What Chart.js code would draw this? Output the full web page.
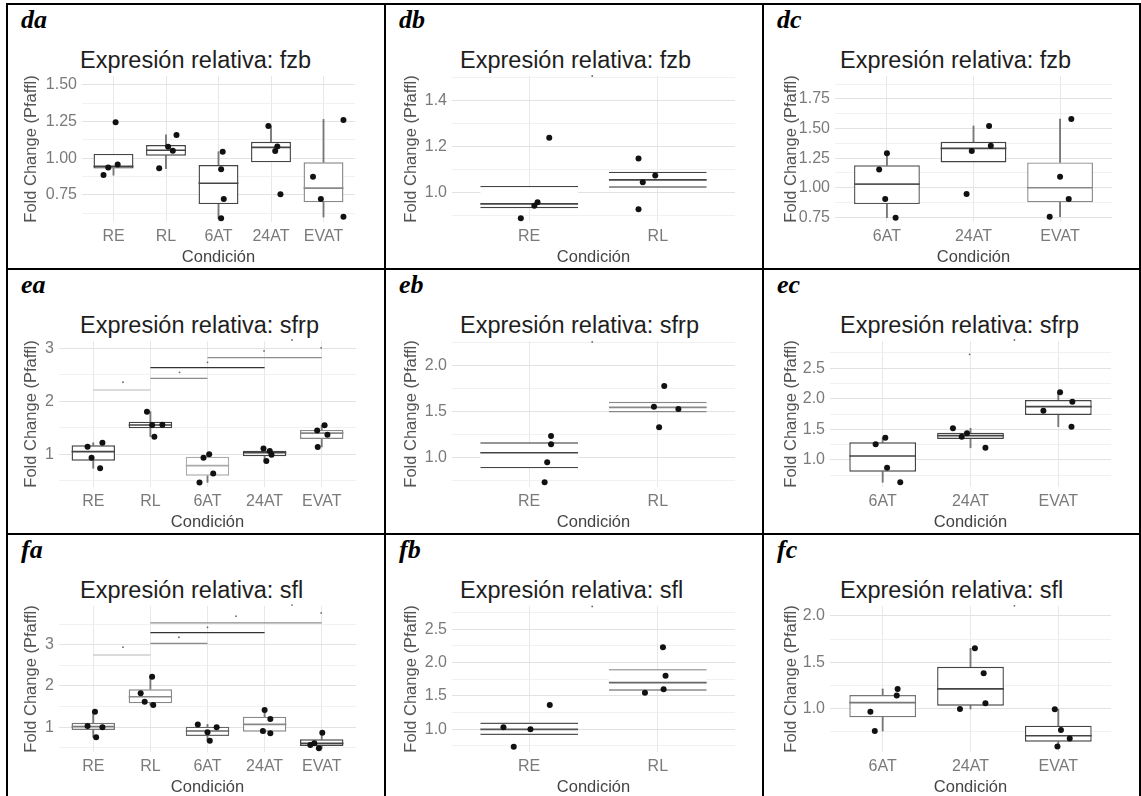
<!DOCTYPE html>
<html lang="es">
<head>
<meta charset="UTF-8" />
<title>Expresión relativa: fzb, sfrp, sfl</title>
<script src="https://cdn.jsdelivr.net/npm/chart.js"></script>
<style>
  * { margin: 0; padding: 0; box-sizing: border-box; }
  body { background: #fff; width: 1141px; height: 796px; overflow: hidden; position: relative; font-family: 'Liberation Sans', Arial, sans-serif; }
  .line { position: absolute; background: #000; }
  .cell { position: absolute; overflow: hidden; }
  .tag { position: absolute; left: 13px; top: 2px; line-height: 26px; font-family: 'Liberation Serif', serif; font-weight: bold; font-style: italic; font-size: 26px; color: #000; }
  .ttl { position: absolute; top: 44px; line-height: 23px; font-size: 23.5px; color: #1e1e1e; white-space: nowrap; }
  canvas { position: absolute; top: 0; }
</style>
</head>
<body>
<div id="sheet"></div>
<script>
  // categories
  const catsAll = ['RE', 'RL', '6AT', '24AT', 'EVAT'];
  const catsRR = ['RE', 'RL'];
  const catsAT = ['6AT', '24AT', 'EVAT'];

  // ---- fzb ----
  const daQ1 = [0.93, 1.018, 0.688, 0.973, 0.70];
  const daMed = [0.945, 1.055, 0.83, 1.075, 0.797];
  const daQ3 = [1.03, 1.09, 0.954, 1.113, 0.973];
  const daLo = [0.885, 0.93, 0.59, null, 0.60];
  const daHi = [null, 1.16, 1.045, 1.22, 1.265];
  const daPts = [[1.245, 0.958, 0.938, 0.887], [0.932, 1.079, 1.052, 1.159], [1.045, 0.925, 0.723, 0.591], [1.22, 1.08, 1.05, 0.755], [0.875, 0.723, 1.261, 0.602]];
  const daJit = [[0.04, 0.08, -0.1, -0.19], [-0.13, 0.04, 0.13, 0.2], [0.08, 0.05, 0.1, 0.05], [-0.05, 0.12, 0.08, 0.18], [-0.2, -0.05, 0.38, 0.38]];

  const dbQ1 = [0.93, 1.02];
  const dbMed = [0.949, 1.054];
  const dbQ3 = [1.0275, 1.09];
  const dbPts = [[0.886, 0.941, 0.956, 1.238], [0.926, 1.044, 1.073, 1.147]];
  const dbJit = [[-0.065, 0.04, 0.065, 0.156], [-0.15, -0.117, -0.02, -0.15]];
  const dbMarkX = [0.49];
  const dbMarkY = [1.508];

  const dcQ1 = [0.862, 1.214, 0.877];
  const dcMed = [1.031, 1.333, 1.0];
  const dcQ3 = [1.19, 1.388, 1.214];
  const dcLo = [0.747, null, 0.755];
  const dcHi = [1.292, 1.521, 1.58];
  const dcPts = [[1.292, 1.155, 0.905, 0.747], [1.521, 1.355, 1.31, 0.947], [1.58, 1.093, 0.905, 0.755]];
  const dcJit = [[0, -0.09, -0.02, 0.1], [0.18, 0.2, -0.02, -0.08], [0.13, 0, 0.1, -0.12]];

  // ---- sfrp ----
  const eaQ1 = [0.88, 1.49, 0.595, 0.965, 1.29];
  const eaMed = [1.05, 1.553, 0.785, 1.03, 1.40];
  const eaQ3 = [1.17, 1.615, 0.955, 1.065, 1.46];
  const eaLo = [0.736, 1.332, 0.47, 0.874, 1.14];
  const eaHi = [1.219, 1.804, 1.0, 1.11, 1.55];
  const eaPts = [[1.143, 1.219, 0.936, 0.736], [1.804, 1.553, 1.56, 1.332], [0.936, 1.0, 0.64, 0.47], [1.11, 1.06, 0.99, 0.874], [1.55, 1.45, 1.37, 1.14]];
  const eaJit = [[-0.1, 0.16, -0.03, 0.12], [-0.06, 0.03, 0.21, 0.07], [-0.07, 0.03, 0.1, -0.14], [-0.02, 0.09, 0.12, 0.03], [0.05, -0.08, 0.1, -0.07]];
  const eaSigFrom = [0, 1, 1, 2];
  const eaSigTo = [1, 2, 3, 4];
  const eaSigH = [2.213, 2.434, 2.634, 2.823];
  const eaMarkX = [0.52, 1.51, 2.0, 2.99, 3.48, 3.99];
  const eaMarkY = [2.36, 2.547, 2.736, 2.95, 3.157, 3.01];

  const ebQ1 = [0.88, 1.49];
  const ebMed = [1.05, 1.546];
  const ebQ3 = [1.164, 1.607];
  const ebPts = [[1.233, 1.142, 0.945, 0.727], [1.78, 1.552, 1.527, 1.328]];
  const ebJit = [[0.17, 0.17, 0.14, 0.12], [0.05, -0.03, 0.16, 0.01]];
  const ebMarkX = [0.49];
  const ebMarkY = [2.26];

  const ecQ1 = [0.809, 1.343, 1.735];
  const ecMed = [1.065, 1.397, 1.871];
  const ecQ3 = [1.289, 1.446, 1.98];
  const ecLo = [0.636, 1.2, 1.544];
  const ecHi = [1.364, 1.518, 2.106];
  const ecPts = [[1.364, 1.256, 0.874, 0.636], [1.518, 1.381, 1.436, 1.2], [2.106, 1.953, 1.806, 1.544]];
  const ecJit = [[0.03, -0.08, 0.05, 0.2], [-0.2, -0.1, -0.04, 0.17], [0.02, 0.16, -0.17, 0.15]];
  const ecMarkX = [0.99, 1.5];
  const ecMarkY = [2.727, 2.96];

  // ---- sfl ----
  const faQ1 = [0.935, 1.58, 0.79, 0.894, 0.547];
  const faMed = [1.015, 1.74, 0.91, 1.07, 0.613];
  const faQ3 = [1.11, 1.92, 1.015, 1.257, 0.71];
  const faLo = [0.758, 1.54, 0.675, 0.855, 0.49];
  const faHi = [1.378, 2.225, 1.07, 1.42, 0.87];
  const faPts = [[1.378, 1.03, 1.0, 0.758], [2.225, 1.823, 1.62, 1.54], [1.07, 1.0, 0.88, 0.675], [1.42, 1.2, 0.91, 0.855], [0.87, 0.613, 0.57, 0.49]];
  const faJit = [[0.03, -0.1, 0.16, 0.05], [0.03, -0.17, -0.1, 0.05], [-0.17, 0.16, 0, 0.04], [0, 0.1, -0.03, 0.1], [0.01, -0.13, -0.2, -0.05]];
  const faSigFrom = [0, 1, 1, 1];
  const faSigTo = [1, 2, 3, 4];
  const faSigH = [2.75, 3.03, 3.29, 3.53];
  const faMarkX = [0.52, 1.5, 2.0, 2.5, 3.48, 3.99];
  const faMarkY = [2.94, 3.18, 3.42, 3.69, 3.96, 3.77];

  const fbQ1 = [0.915, 1.578];
  const fbMed = [1.0, 1.7];
  const fbQ3 = [1.1, 1.9];
  const fbPts = [[1.03, 1.0, 1.364, 0.74], [2.228, 1.8, 1.6, 1.548]];
  const fbJit = [[-0.2, 0.01, 0.16, -0.12], [0.04, 0.06, 0.045, -0.1]];
  const fbMarkX = [0.49];
  const fbMarkY = [2.84];

  const fcQ1 = [0.903, 1.028, 0.638];
  const fcMed = [1.061, 1.21, 0.703];
  const fcQ3 = [1.144, 1.45, 0.812];
  const fcLo = [0.754, 0.993, 0.587];
  const fcHi = [1.21, 1.65, 0.99];
  const fcPts = [[1.21, 1.14, 0.963, 0.754], [1.65, 1.38, 1.054, 0.993], [0.99, 0.764, 0.673, 0.587]];
  const fcJit = [[0.17, 0.16, -0.14, -0.09], [0.05, 0.15, 0.17, -0.12], [-0.04, 0.03, 0.13, -0.01]];
  const fcMarkX = [1.5];
  const fcMarkY = [2.11];

  // y ticks (major labelled, minor grid only)
  const tk075 = [0.75, 1.00, 1.25, 1.50, 1.75];
  const tk075Lab = ['0.75', '1.00', '1.25', '1.50', '1.75'];
  const tk075Min = [0.625, 0.875, 1.125, 1.375, 1.625, 1.875];
  const tkDb = [1.0, 1.2, 1.4];
  const tkDbLab = ['1.0', '1.2', '1.4'];
  const tkDbMin = [0.9, 1.1, 1.3, 1.5];
  const tkInt = [1, 2, 3];
  const tkIntLab = ['1', '2', '3'];
  const tkIntMin = [0.5, 1.5, 2.5, 3.5];
  const tkHalf = [1.0, 1.5, 2.0, 2.5];
  const tkHalfLab = ['1.0', '1.5', '2.0', '2.5'];
  const tkHalfMin = [0.75, 1.25, 1.75, 2.25, 2.75];

  const FONT = "'Liberation Sans', Arial, sans-serif";
  const COL_X = [8, 386, 764];
  const COL_W = [376, 376, 375];
  const ROW_Y = [5, 270, 535];
  const CELL_H = 263;
  const TITLE_X = [72, 74, 76];
  const YTITLE_PAD = [14, 16, 18];

  const panels = [
    { tag: 'da', gene: 'fzb', row: 0, col: 0, cats: catsAll, q1: daQ1, med: daMed, q3: daQ3, lo: daLo, hi: daHi, pts: daPts, jit: daJit,
      yMin: 0.566, yMax: 1.561, yMajor: tk075, yLab: tk075Lab, yMinor: tk075Min, l: 74, r: 347,
      colors: ['#444', '#444', '#444', '#444', '#888'] },
    { tag: 'db', gene: 'fzb', row: 0, col: 1, cats: catsRR, q1: dbQ1, med: dbMed, q3: dbQ3, pts: dbPts, jit: dbJit, markX: dbMarkX, markY: dbMarkY,
      yMin: 0.870, yMax: 1.508, yMajor: tkDb, yLab: tkDbLab, yMinor: tkDbMin, l: 66, r: 349, open: true,
      colors: ['#444', '#444'] },
    { tag: 'dc', gene: 'fzb', row: 0, col: 2, cats: catsAT, q1: dcQ1, med: dcMed, q3: dcQ3, lo: dcLo, hi: dcHi, pts: dcPts, jit: dcJit,
      yMin: 0.711, yMax: 1.943, yMajor: tk075, yLab: tk075Lab, yMinor: tk075Min, l: 71, r: 348,
      colors: ['#555', '#444', '#888'] },
    { tag: 'ea', gene: 'sfrp', row: 1, col: 0, cats: catsAll, q1: eaQ1, med: eaMed, q3: eaQ3, lo: eaLo, hi: eaHi, pts: eaPts, jit: eaJit,
      sigFrom: eaSigFrom, sigTo: eaSigTo, sigH: eaSigH, sigColors: ['#b5b5b5', '#8c8c8c', '#333', '#8c8c8c'], markX: eaMarkX, markY: eaMarkY,
      yMin: 0.383, yMax: 3.138, yMajor: tkInt, yLab: tkIntLab, yMinor: tkIntMin, l: 51, r: 348,
      colors: ['#444', '#444', '#aaa', '#444', '#888'] },
    { tag: 'eb', gene: 'sfrp', row: 1, col: 1, cats: catsRR, q1: ebQ1, med: ebMed, q3: ebQ3, pts: ebPts, jit: ebJit, markX: ebMarkX, markY: ebMarkY,
      yMin: 0.676, yMax: 2.27, yMajor: tkHalf, yLab: tkHalfLab, yMinor: tkHalfMin, l: 66, r: 349, open: true,
      colors: ['#444', '#888'] },
    { tag: 'ec', gene: 'sfrp', row: 1, col: 2, cats: catsAT, q1: ecQ1, med: ecMed, q3: ecQ3, lo: ecLo, hi: ecHi, pts: ecPts, jit: ecJit, markX: ecMarkX, markY: ecMarkY,
      yMin: 0.559, yMax: 2.944, yMajor: tkHalf, yLab: tkHalfLab, yMinor: tkHalfMin, l: 66, r: 347,
      colors: ['#444', '#444', '#444'] },
    { tag: 'fa', gene: 'sfl', row: 2, col: 0, cats: catsAll, q1: faQ1, med: faMed, q3: faQ3, lo: faLo, hi: faHi, pts: faPts, jit: faJit,
      sigFrom: faSigFrom, sigTo: faSigTo, sigH: faSigH, sigColors: ['#b5b5b5', '#8c8c8c', '#333', '#8c8c8c'], markX: faMarkX, markY: faMarkY,
      yMin: 0.402, yMax: 3.937, yMajor: tkInt, yLab: tkIntLab, yMinor: tkIntMin, l: 51, r: 348,
      colors: ['#777', '#888', '#666', '#888', '#444'] },
    { tag: 'fb', gene: 'sfl', row: 2, col: 1, cats: catsRR, q1: fbQ1, med: fbMed, q3: fbQ3, pts: fbPts, jit: fbJit, markX: fbMarkX, markY: fbMarkY,
      yMin: 0.66, yMax: 2.846, yMajor: tkHalf, yLab: tkHalfLab, yMinor: tkHalfMin, l: 66, r: 349, open: true,
      colors: ['#555', '#666'] },
    { tag: 'fc', gene: 'sfl', row: 2, col: 2, cats: catsAT, q1: fcQ1, med: fcMed, q3: fcQ3, lo: fcLo, hi: fcHi, pts: fcPts, jit: fcJit, markX: fcMarkX, markY: fcMarkY,
      yMin: 0.527, yMax: 2.108, yMajor: tkHalf, yLab: tkHalfLab, yMinor: tkHalfMin, l: 66, r: 347,
      colors: ['#777', '#444', '#444'] }
  ];

  // median line of each box, drawn right after its box
  const medianPlugin = {
    id: 'medians',
    afterDatasetDraw(chart, args) {
      const ds = chart.data.datasets[args.index];
      if (!ds.medians) return;
      const y = chart.scales.y, ctx = chart.ctx;
      ctx.save();
      ctx.lineWidth = 1.7;
      args.meta.data.forEach((bar, i) => {
        const py = y.getPixelForValue(ds.medians[i]);
        ctx.strokeStyle = ds.borderColor[i];
        ctx.beginPath();
        ctx.moveTo(bar.x - bar.width / 2, py);
        ctx.lineTo(bar.x + bar.width / 2, py);
        ctx.stroke();
      });
      ctx.restore();
    }
  };

  const sheet = document.getElementById('sheet');
  function addLine(x, y, w, h) {
    const d = document.createElement('div');
    d.className = 'line';
    d.style.cssText = `left:${x}px;top:${y}px;width:${w}px;height:${h}px`;
    sheet.appendChild(d);
  }
  [6, 384, 762, 1139].forEach(x => addLine(x, 3, 2, 800));
  [3, 268, 533].forEach(y => addLine(6, y, 1135, 2));

  panels.forEach(p => {
    const cw = COL_W[p.col];
    const cell = document.createElement('div');
    cell.className = 'cell';
    cell.style.cssText = `left:${COL_X[p.col]}px;top:${ROW_Y[p.row]}px;width:${cw}px;height:${CELL_H}px`;
    cell.innerHTML = `<div class="tag">${p.tag}</div><div class="ttl" style="left:${TITLE_X[p.col]}px">Expresión relativa: ${p.gene}</div>`;
    const cv = document.createElement('canvas');
    cv.width = cw; cv.height = CELL_H;
    cell.appendChild(cv);
    sheet.appendChild(cell);

    const datasets = [];
    const pts = [];
    p.pts.forEach((vals, i) => vals.forEach((v, k) => pts.push({ x: i + p.jit[i][k], y: v })));
    datasets.push({ type: 'scatter', data: pts, pointRadius: 3, pointBackgroundColor: '#111', pointBorderWidth: 0 });
    if (p.markX) {
      datasets.push({ type: 'scatter', data: p.markX.map((x, i) => ({ x, y: p.markY[i] })), pointRadius: 0.9,
        pointBackgroundColor: '#666', pointBorderWidth: 0, clip: false });
    }
    if (p.sigFrom) {
      p.sigFrom.forEach((a, i) => datasets.push({ type: 'line', data: [{ x: a, y: p.sigH[i] }, { x: p.sigTo[i], y: p.sigH[i] }],
        borderColor: p.sigColors[i], borderWidth: 1.2, pointRadius: 0, fill: false }));
    }
    datasets.push({ type: 'bar', data: p.q1.map((v, i) => ({ x: i, y: [v, p.q3[i]] })), medians: p.med,
      backgroundColor: '#fff', borderColor: p.colors,
      borderWidth: p.open ? { top: 1.4, bottom: 1.4, left: 0, right: 0 } : 1.4,
      borderSkipped: false, grouped: false, categoryPercentage: 1, barPercentage: 0.76 });
    if (p.lo) {
      const wl = [], wh = [];
      p.lo.forEach((v, i) => { if (v != null) wl.push({ x: i, y: [v, p.q1[i]] }); });
      p.hi.forEach((v, i) => { if (v != null) wh.push({ x: i, y: [p.q3[i], v] }); });
      datasets.push({ type: 'bar', data: wl, backgroundColor: '#777', barThickness: 1.2, grouped: false, borderWidth: 0 });
      datasets.push({ type: 'bar', data: wh, backgroundColor: '#777', barThickness: 1.2, grouped: false, borderWidth: 0 });
    }

    const n = p.cats.length;
    new Chart(cv, {
      type: 'bar',
      data: { datasets },
      plugins: [medianPlugin],
      options: {
        responsive: false, animation: false, events: [],
        layout: { padding: { left: 0, top: 71, right: cw - p.r, bottom: 0 } },
        plugins: { legend: { display: false }, tooltip: { enabled: false } },
        scales: {
          x: {
            type: 'linear', min: -0.6, max: n - 0.4, offset: false,
            afterBuildTicks: s => { s.ticks = p.cats.map((c, i) => ({ value: i })); },
            afterFit: s => { s.height = CELL_H - 217; },
            grid: { color: '#e8e8e8', lineWidth: 1, drawTicks: false, offset: false },
            border: { display: false },
            ticks: { autoSkip: false, maxRotation: 0, padding: 5, color: '#7a7a7a', font: { family: FONT, size: 16 },
              callback: (v, i) => p.cats[i] },
            title: { display: true, text: 'Condición', color: '#444', font: { family: FONT, size: 16.5 }, padding: { top: 0, bottom: 1 } }
          },
          y: {
            type: 'linear', min: p.yMin, max: p.yMax,
            afterBuildTicks: s => {
              s.ticks = p.yMinor.concat(p.yMajor).filter(v => v >= p.yMin && v <= p.yMax).sort((a, b) => a - b).map(v => ({ value: v }));
            },
            afterFit: s => { s.width = p.l; },
            grid: {
              color: c => p.yMajor.includes(c.tick.value) ? '#e2e2e2' : '#eeeeee',
              lineWidth: c => p.yMajor.includes(c.tick.value) ? 1.1 : 0.8,
              drawTicks: false
            },
            border: { display: false },
            ticks: { autoSkip: false, padding: 5, color: '#7a7a7a', font: { family: FONT, size: 16 },
              callback: v => { const k = p.yMajor.indexOf(v); return k < 0 ? '' : p.yLab[k]; } },
            title: { display: true, text: 'Fold Change (Pfaffl)', color: '#555', font: { family: FONT, size: 16.5 },
              padding: { top: YTITLE_PAD[p.col], bottom: 0 } }
          }
        }
      }
    });
  });
</script>
</body>
</html>
